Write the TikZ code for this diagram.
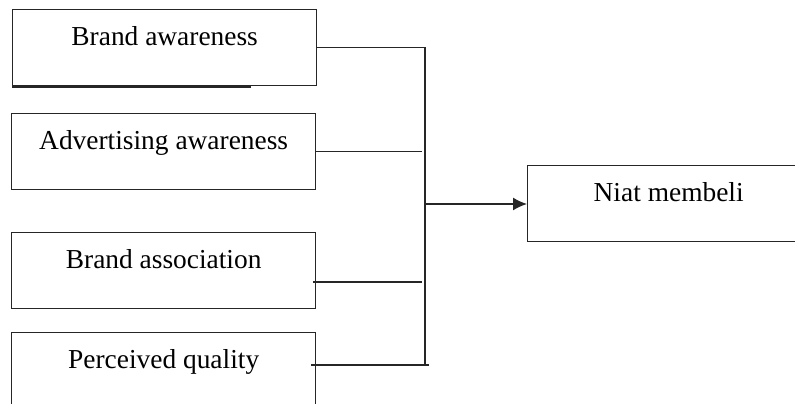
\documentclass[tikz,border=0pt]{standalone}
\usepackage{fontspec}
\setmainfont{Liberation Serif}
\usetikzlibrary{arrows.meta}
\tikzset{
  varbox/.style={draw=black!85, line width=0.8pt, rectangle, anchor=north west,
    minimum width=6.08cm, minimum height=1.52cm, inner xsep=0pt, inner ysep=0pt,
    text height=0.72cm, text depth=0.80cm, font=\fontsize{15.6}{18}\selectfont},
  bus/.style={line width=0.8pt, draw=black!85}
}

\begin{document}
\begin{tikzpicture}[x=0.02cm, y=-0.02cm]
			%%%%% BOUNDS %%%%%
			\useasboundingbox (0,0) rectangle (795,404);
			
			%%%%% VARIABLES %%%%%
			\node[varbox] (ba) at (12,9) {Brand awareness};
			\node[varbox] (aa) at (11,113) {Advertising awareness};
			\node[varbox] (bas) at (11,232) {Brand association};
			\node[varbox] (pq) at (11,332) {Perceived quality};
			\node[varbox, minimum width=5.64cm] (nm) at (527,165) {Niat membeli};
			\draw[line width=1.4pt, black!85] (ba.south west) -- ++(239,0);
			
			%%%%% JUNCTIONS %%%%%
			\coordinate (j2) at (422,149);
			\coordinate (s3) at (313,282);
			\coordinate (j3) at (422,282);
			\coordinate (s4) at (311,365);
			\coordinate (j4) at (429,365);
			\coordinate (bot) at (425,365);
			\coordinate (hub) at (425,204);
			
			%%%%% CONNECTORS %%%%%
			\draw[bus] (ba.east) -| (bot);
			\draw[bus] (aa.east) -- (aa.east -| j2);
			\draw[bus] (s3) -- (j3);
			\draw[bus] (s4) -- (j4);
			\draw[bus, -{Latex[length=0.28cm, width=0.26cm]}] (hub) -- (hub -| nm.west);
\end{tikzpicture}
\end{document}
